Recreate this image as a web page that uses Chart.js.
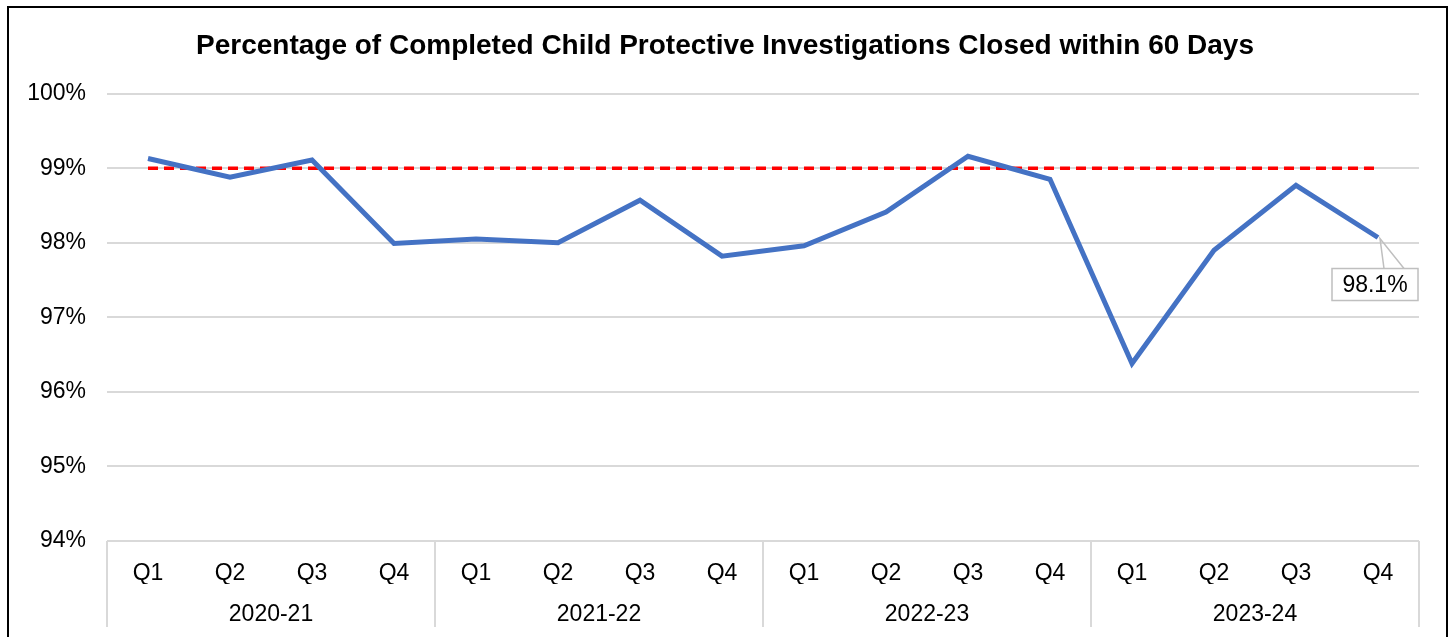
<!DOCTYPE html>
<html>
<head>
<meta charset="utf-8">
<script src="https://cdn.jsdelivr.net/npm/chart.js@4.4.1/dist/chart.umd.min.js"></script>
<style>
html,body{margin:0;padding:0;background:#fff;}
#wrap{width:1450px;height:637px;position:relative;}
</style>
</head>
<body>
<div id="wrap"><canvas id="c" width="1450" height="637"></canvas></div>
<script>
const quarters = ['Q1','Q2','Q3','Q4','Q1','Q2','Q3','Q4','Q1','Q2','Q3','Q4','Q1','Q2','Q3','Q4'];
const fiscalYears = ['2020-21','2021-22','2022-23','2023-24'];
const pctClosed = [99.13, 98.88, 99.11, 97.99, 98.05, 98.00, 98.57, 97.82, 97.96, 98.41, 99.16, 98.85, 96.38, 97.90, 98.77, 98.07];
const target = [99,99,99,99,99,99,99,99,99,99,99,99,99,99,99,99];
const yTicks = [94,95,96,97,98,99,100];
const lastLabel = '98.1%';

const FONT = "'Liberation Sans', Arial, sans-serif";

const decor = {
  id: 'decor',
  afterDraw(chart) {
    const ctx = chart.ctx;
    const x = chart.scales.x;
    const area = chart.chartArea;
    const step = x.getPixelForValue(1) - x.getPixelForValue(0);
    ctx.save();
    // group separators
    ctx.strokeStyle = '#d9d9d9';
    ctx.lineWidth = 2;
    for (let g = 0; g <= fiscalYears.length; g++) {
      const px = Math.round(x.getPixelForValue(g * 4) - step / 2);
      ctx.beginPath();
      ctx.moveTo(px, area.bottom);
      ctx.lineTo(px, 627);
      ctx.stroke();
    }
    // callout label for last point
    const meta = chart.getDatasetMeta(0);
    const pt = meta.data[meta.data.length - 1];
    const bx = pt.x - 46, by = pt.y + 31, bw = 86, bh = 32;
    ctx.strokeStyle = '#bfbfbf';
    ctx.lineWidth = 1.5;
    ctx.beginPath();
    ctx.moveTo(pt.x + 6, by);
    ctx.lineTo(pt.x + 2, pt.y + 1);
    ctx.lineTo(pt.x + 26, by);
    ctx.stroke();
    ctx.fillStyle = '#fff';
    ctx.fillRect(bx, by, bw, bh);
    ctx.strokeRect(bx, by, bw, bh);
    ctx.fillStyle = '#000';
    ctx.font = '23px ' + FONT;
    ctx.textAlign = 'center';
    ctx.textBaseline = 'middle';
    ctx.fillText(lastLabel, bx + bw / 2, by + bh / 2 + 1);
    // outer border
    ctx.strokeStyle = '#000';
    ctx.lineWidth = 2;
    ctx.strokeRect(8, 7, 1439, 700);
    ctx.restore();
  }
};

new Chart(document.getElementById('c'), {
  type: 'line',
  data: {
    labels: quarters,
    datasets: [
      {
        data: pctClosed,
        borderColor: '#4472C4',
        borderWidth: 5,
        pointRadius: 0,
        tension: 0,
        fill: false,
        order: 1
      },
      {
        data: target,
        borderColor: '#FF0000',
        borderWidth: 3.5,
        borderDash: [10, 6],
        pointRadius: 0,
        tension: 0,
        fill: false,
        order: 2
      }
    ]
  },
  options: {
    responsive: false,
    animation: false,
    devicePixelRatio: 1,
    layout: { padding: { left: 0, right: 0, top: 0, bottom: 0 } },
    plugins: {
      legend: { display: false },
      tooltip: { enabled: false },
      title: {
        display: true,
        text: 'Percentage of Completed Child Protective Investigations Closed within 60 Days',
        color: '#000',
        font: { family: FONT, size: 28, weight: 'bold', lineHeight: 1.2 },
        padding: { top: 29, bottom: 31 }
      }
    },
    scales: {
      y: {
        min: 94,
        max: 100,
        afterFit(s) { s.width = 107; },
        afterBuildTicks(s) { s.ticks = yTicks.map(v => ({ value: v })); },
        border: { display: false },
        grid: { color: '#d9d9d9', lineWidth: 2, drawTicks: false },
        ticks: {
          padding: 21,
          color: '#000',
          font: { family: FONT, size: 23 },
          callback: v => v + '%'
        }
      },
      yRight: {
        type: 'linear',
        position: 'right',
        min: 94,
        max: 100,
        afterFit(s) { s.width = 31; },
        border: { display: false },
        grid: { display: false, drawTicks: false },
        ticks: { display: false }
      },
      x: {
        type: 'category',
        offset: true,
        afterFit(s) { s.height = 43; },
        border: { display: false },
        grid: { display: false, drawTicks: false },
        ticks: {
          padding: 19,
          maxRotation: 0,
          autoSkip: false,
          color: '#000',
          font: { family: FONT, size: 23 }
        }
      },
      x2: {
        type: 'category',
        position: 'bottom',
        labels: fiscalYears,
        offset: true,
        afterFit(s) { s.height = 53; },
        border: { display: false },
        grid: { display: false, drawTicks: false },
        ticks: {
          padding: 17,
          maxRotation: 0,
          autoSkip: false,
          color: '#000',
          font: { family: FONT, size: 23 }
        }
      }
    }
  },
  plugins: [decor]
});
</script>
</body>
</html>
